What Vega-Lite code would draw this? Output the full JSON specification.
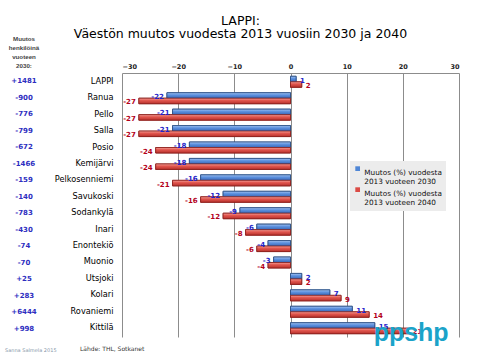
{
  "$schema": "https://vega.github.io/schema/vega-lite/v6.json",
  "autosize": {"type": "pad"},
  "padding": {"left": 4, "top": 15, "right": 17, "bottom": 2},
  "background": "white",
  "bounds": "flush",
  "spacing": 78,
  "config": {"view": {"stroke": null}, "font": "DejaVu Sans"},
  "datasets": {
    "henk": [
      {"kunta": "LAPPI", "henkilot": "+1481"},
      {"kunta": "Ranua", "henkilot": "-900"},
      {"kunta": "Pello", "henkilot": "-776"},
      {"kunta": "Salla", "henkilot": "-799"},
      {"kunta": "Posio", "henkilot": "-672"},
      {"kunta": "Kemijärvi", "henkilot": "-1466"},
      {"kunta": "Pelkosenniemi", "henkilot": "-159"},
      {"kunta": "Savukoski", "henkilot": "-140"},
      {"kunta": "Sodankylä", "henkilot": "-783"},
      {"kunta": "Inari", "henkilot": "-430"},
      {"kunta": "Enontekiö", "henkilot": "-74"},
      {"kunta": "Muonio", "henkilot": "-70"},
      {"kunta": "Utsjoki", "henkilot": "+25"},
      {"kunta": "Kolari", "henkilot": "+283"},
      {"kunta": "Rovaniemi", "henkilot": "+6444"},
      {"kunta": "Kittilä", "henkilot": "+998"}
    ],
    "muutos": [
      {"kunta": "LAPPI", "vuosi": "2030", "muutos": 1},
      {"kunta": "LAPPI", "vuosi": "2040", "muutos": 2},
      {"kunta": "Ranua", "vuosi": "2030", "muutos": -22},
      {"kunta": "Ranua", "vuosi": "2040", "muutos": -27},
      {"kunta": "Pello", "vuosi": "2030", "muutos": -21},
      {"kunta": "Pello", "vuosi": "2040", "muutos": -27},
      {"kunta": "Salla", "vuosi": "2030", "muutos": -21},
      {"kunta": "Salla", "vuosi": "2040", "muutos": -27},
      {"kunta": "Posio", "vuosi": "2030", "muutos": -18},
      {"kunta": "Posio", "vuosi": "2040", "muutos": -24},
      {"kunta": "Kemijärvi", "vuosi": "2030", "muutos": -18},
      {"kunta": "Kemijärvi", "vuosi": "2040", "muutos": -24},
      {"kunta": "Pelkosenniemi", "vuosi": "2030", "muutos": -16},
      {"kunta": "Pelkosenniemi", "vuosi": "2040", "muutos": -21},
      {"kunta": "Savukoski", "vuosi": "2030", "muutos": -12},
      {"kunta": "Savukoski", "vuosi": "2040", "muutos": -16},
      {"kunta": "Sodankylä", "vuosi": "2030", "muutos": -9},
      {"kunta": "Sodankylä", "vuosi": "2040", "muutos": -12},
      {"kunta": "Inari", "vuosi": "2030", "muutos": -6},
      {"kunta": "Inari", "vuosi": "2040", "muutos": -8},
      {"kunta": "Enontekiö", "vuosi": "2030", "muutos": -4},
      {"kunta": "Enontekiö", "vuosi": "2040", "muutos": -6},
      {"kunta": "Muonio", "vuosi": "2030", "muutos": -3},
      {"kunta": "Muonio", "vuosi": "2040", "muutos": -4},
      {"kunta": "Utsjoki", "vuosi": "2030", "muutos": 2},
      {"kunta": "Utsjoki", "vuosi": "2040", "muutos": 2},
      {"kunta": "Kolari", "vuosi": "2030", "muutos": 7},
      {"kunta": "Kolari", "vuosi": "2040", "muutos": 9},
      {"kunta": "Rovaniemi", "vuosi": "2030", "muutos": 11},
      {"kunta": "Rovaniemi", "vuosi": "2040", "muutos": 14},
      {"kunta": "Kittilä", "vuosi": "2030", "muutos": 15},
      {"kunta": "Kittilä", "vuosi": "2040", "muutos": 21}
    ]
  },
  "hconcat": [
    {
      "width": 40,
      "height": 264,
      "title": {
        "text": ["Muutos", "henkilöinä", "vuoteen", "2030:"],
        "font": "Liberation Sans",
        "fontSize": 6.2,
        "fontWeight": "bold",
        "color": "#444444",
        "lineHeight": 9,
        "offset": 3.5,
        "anchor": "middle"
      },
      "layer": [
        {
          "data": {"name": "henk"},
          "mark": {"type": "text", "fontSize": 7, "fontWeight": "bold", "color": "#2e2ebf"},
          "encoding": {
            "y": {"field": "kunta", "type": "nominal", "sort": null, "axis": null},
            "text": {"field": "henkilot"}
          }
        },
        {
          "data": {"values": [{"t": "Sanna Salmela 2015"}]},
          "mark": {"type": "text", "align": "left", "fontSize": 5, "color": "#8899aa", "dy": 21, "dx": -19},
          "encoding": {
            "y": {"datum": "Kittilä"},
            "text": {"field": "t"}
          }
        }
      ]
    },
    {
      "width": 337,
      "height": 264,
      "title": {
        "text": "LAPPI:",
        "subtitle": "Väestön muutos vuodesta 2013 vuosiin 2030 ja 2040",
        "anchor": "middle",
        "dx": -50,
        "offset": 23,
        "font": "DejaVu Sans",
        "fontSize": 12.5,
        "fontWeight": "normal",
        "color": "#000000",
        "subtitleFont": "DejaVu Sans",
        "subtitleFontSize": 12.5,
        "subtitleColor": "#000000",
        "subtitlePadding": 0
      },
      "layer": [
        {
          "data": {"name": "muutos"},
          "mark": {"type": "bar", "strokeWidth": 0.8},
          "encoding": {
            "y": {
              "field": "kunta", "type": "nominal", "sort": null,
              "scale": {"paddingInner": 0.33},
              "axis": {"title": null, "labelFontSize": 8.2, "labelColor": "#000000", "ticks": false, "domain": false, "labelPadding": 9}
            },
            "yOffset": {"field": "vuosi", "type": "nominal", "sort": null},
            "x": {
              "field": "muutos", "type": "quantitative",
              "scale": {"domain": [-30, 30], "nice": false},
              "axis": {"orient": "top", "values": [-30, -20, -10, 0, 10, 20, 30], "title": null, "grid": true, "gridColor": "#8c8c8c", "gridOpacity": 1, "domainColor": "#8c8c8c", "ticks": false, "labelFontSize": 6.5, "labelColor": "#222222", "labelFontWeight": "bold", "labelPadding": 4}
            },
            "color": {
              "field": "vuosi", "type": "nominal", "sort": null,
              "scale": {"range": ["#4f86d6", "#db4b45"]},
              "legend": {
                "orient": "none", "legendX": 346, "legendY": 88,
                "title": null, "fillColor": "#ececec", "padding": 4,
                "labelFontSize": 7.3, "labelColor": "#111111",
                "symbolType": "square", "symbolSize": 22, "symbolStrokeWidth": 0,
                "rowPadding": 0, "labelBaseline": "top", "labelOffset": 3, "labelLimit": 200,
                "labelExpr": "['Muutos (%) vuodesta', '2013 vuoteen ' + datum.label]"
              }
            },
            "stroke": {
              "field": "vuosi", "type": "nominal", "sort": null,
              "scale": {"range": ["#2a4c82", "#8a1f1c"]},
              "legend": null
            }
          }
        },
        {
          "data": {"name": "muutos"},
          "transform": [{"filter": "datum.vuosi == '2030'"}],
          "mark": {
            "type": "bar", "strokeWidth": 0.8, "stroke": "#2a4c82",
            "fill": {"gradient": "linear", "x1": 0, "y1": 0, "x2": 0, "y2": 1,
              "stops": [{"offset": 0, "color": "#a6c6f4"}, {"offset": 0.4, "color": "#5f93e0"}, {"offset": 1, "color": "#3767b8"}]}
          },
          "encoding": {
            "y": {"field": "kunta", "type": "nominal", "sort": null},
            "yOffset": {"field": "vuosi", "type": "nominal", "sort": null},
            "x": {"field": "muutos", "type": "quantitative"}
          }
        },
        {
          "data": {"name": "muutos"},
          "transform": [{"filter": "datum.vuosi == '2040'"}],
          "mark": {
            "type": "bar", "strokeWidth": 0.8, "stroke": "#8a1f1c",
            "fill": {"gradient": "linear", "x1": 0, "y1": 0, "x2": 0, "y2": 1,
              "stops": [{"offset": 0, "color": "#f4a29a"}, {"offset": 0.4, "color": "#e2574f"}, {"offset": 1, "color": "#b8312c"}]}
          },
          "encoding": {
            "y": {"field": "kunta", "type": "nominal", "sort": null},
            "yOffset": {"field": "vuosi", "type": "nominal", "sort": null},
            "x": {"field": "muutos", "type": "quantitative"}
          }
        },
        {
          "data": {"name": "muutos"},
          "transform": [{"filter": "datum.muutos < 0"}],
          "mark": {"type": "text", "align": "right", "dx": -3, "dy": 1.5, "fontSize": 7, "fontWeight": "bold"},
          "encoding": {
            "y": {"field": "kunta", "type": "nominal", "sort": null},
            "yOffset": {"field": "vuosi", "type": "nominal", "sort": null},
            "x": {"field": "muutos", "type": "quantitative"},
            "text": {"field": "muutos"},
            "color": {"condition": {"test": "datum.vuosi == '2030'", "value": "#2424c8"}, "value": "#b3001b"}
          }
        },
        {
          "data": {"name": "muutos"},
          "transform": [{"filter": "datum.muutos > 0"}],
          "mark": {"type": "text", "align": "left", "dx": 4, "dy": 1.5, "fontSize": 7, "fontWeight": "bold"},
          "encoding": {
            "y": {"field": "kunta", "type": "nominal", "sort": null},
            "yOffset": {"field": "vuosi", "type": "nominal", "sort": null},
            "x": {"field": "muutos", "type": "quantitative"},
            "text": {"field": "muutos"},
            "color": {"condition": {"test": "datum.vuosi == '2030'", "value": "#2424c8"}, "value": "#b3001b"}
          }
        },
        {
          "data": {"values": [{"t": "ppshp"}]},
          "mark": {"type": "text", "align": "left", "baseline": "alphabetic", "font": "Liberation Sans", "fontWeight": "bold", "fontSize": 25, "color": "#1ba3c9", "dy": 13},
          "encoding": {
            "x": {"datum": 14.8},
            "y": {"datum": "Kittilä"},
            "text": {"field": "t"}
          }
        },
        {
          "data": {"values": [{"t": "Lähde: THL, Sotkanet"}]},
          "mark": {"type": "text", "align": "left", "fontSize": 6, "color": "#333333", "dx": -42, "dy": 21},
          "encoding": {
            "x": {"datum": -30},
            "y": {"datum": "Kittilä"},
            "text": {"field": "t"}
          }
        }
      ]
    }
  ]
}
